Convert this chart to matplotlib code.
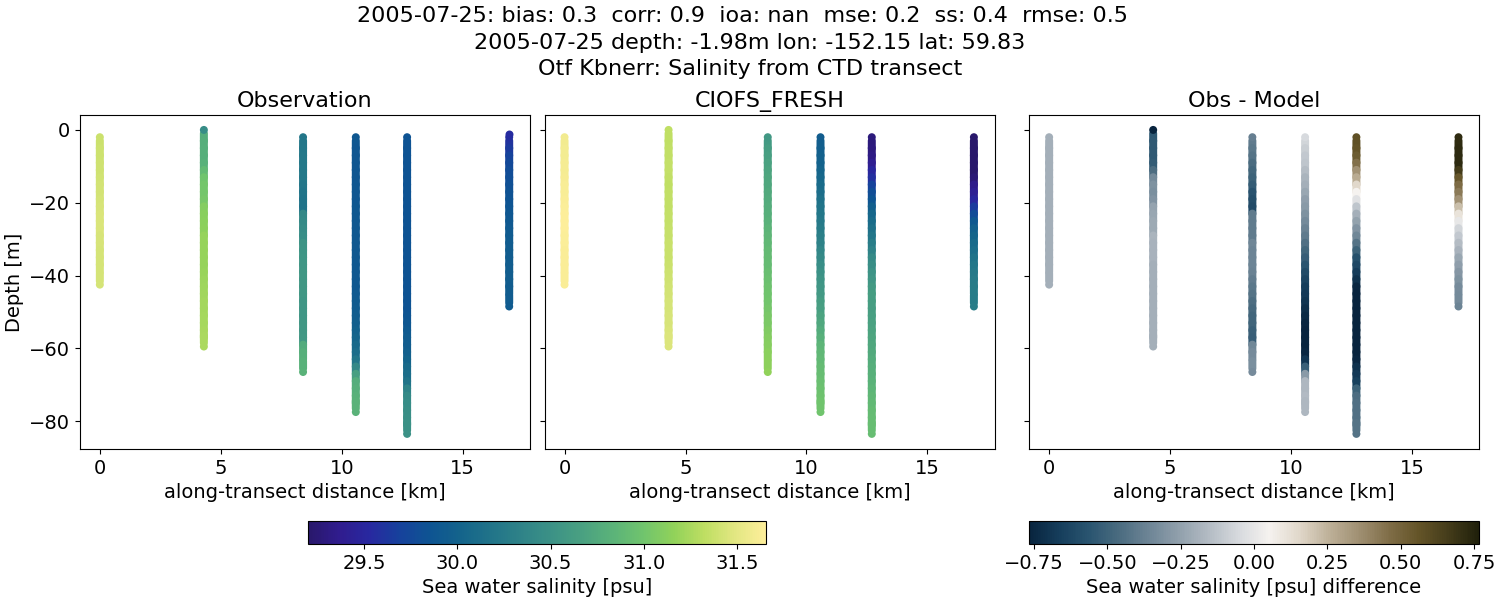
import numpy as np
import matplotlib
matplotlib.use("Agg")
import matplotlib.pyplot as plt
from matplotlib.colors import LinearSegmentedColormap, Normalize
from matplotlib.cm import ScalarMappable
from matplotlib.path import Path

TITLE_LINES = ["2005-07-25: bias: 0.3  corr: 0.9  ioa: nan  mse: 0.2  ss: 0.4  rmse: 0.5  ",
               "2005-07-25 depth: -1.98m lon: -152.15 lat: 59.83",
               "Otf Kbnerr: Salinity from CTD transect"]
PANEL_TITLES = ["Observation", "CIOFS_FRESH", "Obs - Model"]

dist_km = [0.0, 4.30, 8.40, 10.58, 12.7, 16.92]

depth_1 = [-2,-4,-6,-8,-10,-12,-14,-16,-18,-20,-22,-24,-26,-28,-30,-32,-34,-36,-38,-40.5,-42.5]
obs_1 = [31.38,31.38,31.39,31.39,31.40,31.40,31.41,31.42,31.42,31.43,31.44,31.45,31.45,31.45,31.44,31.44,31.43,31.43,31.43,31.43,31.43]
mod_1 = [31.58,31.58,31.59,31.59,31.60,31.60,31.61,31.62,31.62,31.63,31.64,31.65,31.65,31.65,31.64,31.64,31.63,31.63,31.63,31.63,31.63]

depth_2 = [0,-2,-4,-6,-8,-10,-12,-14,-16,-18,-20,-22,-24,-26,-28,-30,-32,-34,-36,-38,-40,-42,-44,-46,-48,-50,-52,-54,-56,-57.5,-59.5]
obs_2 = [30.45,30.78,30.79,30.80,30.80,30.82,30.90,31.00,31.02,31.02,31.04,31.10,31.12,31.13,31.14,31.18,31.18,31.18,31.18,31.18,31.19,31.20,31.21,31.22,31.23,31.23,31.24,31.24,31.25,31.26,31.26]
mod_2 = [31.33,31.33,31.33,31.34,31.34,31.35,31.35,31.34,31.33,31.34,31.34,31.34,31.35,31.35,31.36,31.36,31.37,31.37,31.37,31.38,31.39,31.40,31.41,31.42,31.43,31.43,31.44,31.44,31.45,31.46,31.46]

depth_3 = [-2,-4,-6,-8,-10,-12,-14,-16,-18,-20,-22,-24,-26,-28,-30,-32,-34,-36,-38,-40,-42,-44,-46,-48,-50,-52,-54,-56,-58,-60,-62,-64.5,-66.5]
obs_3 = [30.20,30.20,30.21,30.22,30.22,30.22,30.22,30.20,30.18,30.17,30.17,30.40,30.42,30.44,30.46,30.53,30.54,30.55,30.56,30.57,30.57,30.57,30.57,30.56,30.56,30.56,30.57,30.57,30.58,30.76,30.80,30.82,30.83]
mod_3 = [30.58,30.60,30.62,30.65,30.68,30.70,30.72,30.73,30.75,30.76,30.78,30.80,30.82,30.84,30.86,30.88,30.90,30.91,30.92,30.94,30.96,30.98,31.00,31.01,31.03,31.05,31.06,31.08,31.10,31.11,31.13,31.14,31.16]

depth_4 = [-2,-4,-6,-8,-10,-12,-14,-16,-18,-20,-22,-24,-26,-28,-30,-32,-34,-36,-38,-40,-42,-44,-46,-48,-50,-52,-54,-56,-58,-60,-62,-64,-66,-68,-70,-72,-74,-75.5,-77.5]
obs_4 = [29.90,29.89,29.88,29.88,29.88,29.88,29.88,29.89,29.89,29.89,29.90,29.90,29.90,29.90,29.90,29.90,29.90,29.90,29.90,29.90,29.90,29.90,29.91,29.92,29.93,29.95,29.97,30.00,30.03,30.07,30.12,30.20,30.40,30.65,30.78,30.80,30.82,30.83,30.83]
mod_4 = [29.95,29.96,29.97,29.99,30.00,30.03,30.06,30.09,30.12,30.15,30.18,30.21,30.24,30.27,30.30,30.34,30.38,30.42,30.46,30.50,30.53,30.56,30.59,30.62,30.65,30.69,30.73,30.77,30.81,30.85,30.87,30.89,30.91,30.93,30.95,30.97,30.98,31.00,31.00]

depth_5 = [-2,-4,-6,-8,-10,-12,-14,-16,-18,-20,-22,-24,-26,-28,-30,-32,-34,-36,-38,-40,-42,-44,-46,-48,-50,-52,-54,-56,-58,-60,-62,-64,-66,-68,-70,-72,-74,-76,-78,-80,-81.5,-83.5]
obs_5 = [29.85,29.85,29.85,29.85,29.85,29.85,29.85,29.85,29.85,29.85,29.85,29.85,29.85,29.85,29.85,29.85,29.85,29.85,29.85,29.85,29.85,29.85,29.85,29.85,29.85,29.87,29.89,29.91,29.93,29.95,29.98,30.02,30.08,30.13,30.18,30.35,30.42,30.45,30.47,30.48,30.50,30.50]
mod_5 = [29.28,29.28,29.29,29.32,29.40,29.50,29.58,29.70,29.80,29.87,29.97,30.05,30.10,30.15,30.20,30.28,30.35,30.43,30.47,30.52,30.56,30.60,30.62,30.62,30.63,30.65,30.67,30.69,30.71,30.73,30.75,30.77,30.79,30.81,30.83,30.85,30.87,30.89,30.91,30.92,30.93,30.93]

depth_6 = [-2,-4,-6,-8,-10,-12,-14,-16,-18,-20,-22,-24,-26,-28,-30,-32,-34,-36,-38,-40,-42,-44,-46.5,-48.5]
obs_6 = [29.57,29.60,29.65,29.70,29.75,29.78,29.80,29.82,29.84,29.85,29.87,29.89,29.90,29.91,29.92,29.93,29.94,29.94,29.95,29.95,29.95,29.94,29.93,29.92]
mod_6 = [28.85,28.88,28.92,28.97,29.02,29.12,29.25,29.35,29.42,29.50,29.65,29.78,29.90,29.98,30.03,30.08,30.13,30.17,30.21,30.24,30.26,30.27,30.27,30.28]
obs_6_top_depth = [-1]
obs_6_top_value = [29.55]

depths = [depth_1, depth_2, depth_3, depth_4, depth_5, depth_6]
obs = [obs_1, obs_2, obs_3, obs_4, obs_5, obs_6]
mod = [mod_1, mod_2, mod_3, mod_4, mod_5, mod_6]

SAL_MIN, SAL_MAX = 29.2, 31.655
DIFF_LIM = 0.767

stops_h = [(41,24,107),(48,28,142),(40,40,160),(22,66,156),(14,84,146),(20,100,139),(33,116,137),
           (47,131,136),(60,146,134),(74,161,129),(91,179,121),(112,196,109),(145,210,90),
           (190,222,98),(226,231,130),(253,238,154)]
haline = LinearSegmentedColormap.from_list("haline_like", [tuple(c/255 for c in s) for s in stops_h], N=256)
stops_d = [(8,36,62),(22,62,92),(42,85,112),(75,108,128),(110,133,150),(145,160,172),(180,188,196),
           (215,218,222),(245,242,239),(225,216,203),(190,177,153),(160,144,115),(128,110,72),
           (100,84,40),(68,60,26),(32,32,11)]
diffmap = LinearSegmentedColormap.from_list("diff_like", [tuple(c/255 for c in s) for s in stops_d], N=256)

plt.rcParams.update({"font.size": 14, "axes.titlesize": 16, "axes.labelsize": 14})

W, H = 1500, 600
fig = plt.figure(figsize=(15, 6), dpi=100)


def place(x0, y0, x1, y1):
    return fig.add_axes([x0 / W, 1 - y1 / H, (x1 - x0) / W, (y1 - y0) / H])


axes = [place(80, 115, 530, 449), place(544.7, 115, 994.7, 449), place(1029.3, 115, 1479.3, 449)]
sal_norm = Normalize(SAL_MIN, SAL_MAX)
diff_norm = Normalize(-DIFF_LIM, DIFF_LIM)

# Capsule-shaped mark: 8 px wide, with a straight run as long as the 2 m sample spacing.
_t = np.linspace(0, np.pi, 25)
_cap_x, _cap_y = 4.0 * np.cos(_t), 3.65 + 4.0 * np.sin(_t)
_verts = np.vstack([np.column_stack([_cap_x, _cap_y]),
                    np.column_stack([-_cap_x, -_cap_y]),
                    [[_cap_x[0], _cap_y[0]]]])
CAPSULE = Path(_verts, closed=True)
CAPSULE_S = (2 * 7.65 * 0.72) ** 2


def cast(ax, x, d, v, cmap, norm):
    d = np.asarray(d)
    v = np.asarray(v)
    ax.scatter(np.full(len(d) - 2, x), d[1:-1], c=v[1:-1], cmap=cmap, norm=norm,
               marker=CAPSULE, s=CAPSULE_S, linewidths=0)
    ax.scatter(np.full(2, x), d[[0, -1]], c=v[[0, -1]], cmap=cmap, norm=norm,
               marker="o", s=33, linewidths=0)


for x, d, o, m in zip(dist_km, depths, obs, mod):
    cast(axes[0], x, d, o, haline, sal_norm)
    cast(axes[1], x, d, m, haline, sal_norm)
    cast(axes[2], x, d, np.array(o) - np.array(m), diffmap, diff_norm)
axes[0].scatter([dist_km[5]], obs_6_top_depth, c=obs_6_top_value, cmap=haline, norm=sal_norm,
                marker="o", s=33, linewidths=0)

for ax, title in zip(axes, PANEL_TITLES):
    ax.set_xlim(-0.82, 17.78)
    ax.set_ylim(-87.65, 4.1)
    ax.set_xticks([0, 5, 10, 15])
    ax.set_yticks([0, -20, -40, -60, -80])
    ax.set_title(title, pad=6)
    ax.set_xlabel("along-transect distance [km]", labelpad=4)
axes[0].set_ylabel("Depth [m]")
axes[1].tick_params(labelleft=False)
axes[2].tick_params(labelleft=False)

cax1 = place(308, 521, 766, 544)
cb1 = fig.colorbar(ScalarMappable(norm=sal_norm, cmap=haline), cax=cax1, orientation="horizontal")
cb1.set_ticks([29.5, 30.0, 30.5, 31.0, 31.5])
cb1.set_label("Sea water salinity [psu]")

cax2 = place(1029, 521, 1479, 544)
cb2 = fig.colorbar(ScalarMappable(norm=diff_norm, cmap=diffmap), cax=cax2, orientation="horizontal")
cb2.set_ticks([-0.75, -0.5, -0.25, 0, 0.25, 0.5, 0.75])
cb2.set_label("Sea water salinity [psu] difference")

fig.text(0.5, 1 - 6 / H, "\n".join(TITLE_LINES), ha="center", va="top", fontsize=16, linespacing=1.41)
fig.savefig("out.png", dpi=100)
